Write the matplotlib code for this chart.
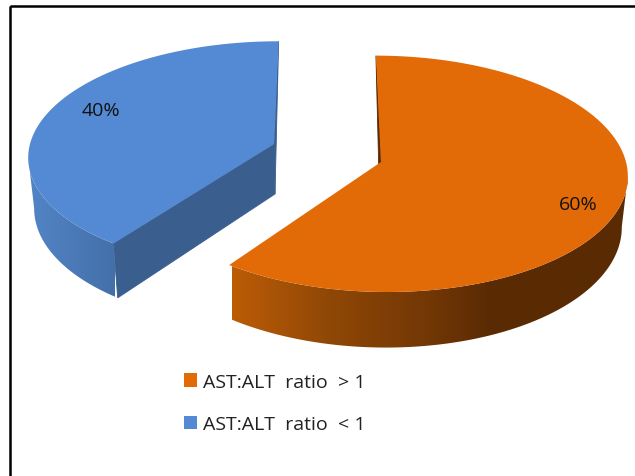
import numpy as np
import matplotlib.pyplot as plt
from matplotlib.colors import LinearSegmentedColormap
from matplotlib.patches import Patch, Polygon, Rectangle

# slices, clockwise from twelve o'clock
labels = ['AST:ALT  ratio  > 1', 'AST:ALT  ratio  < 1']
shares = [60, 40]
top_colors = ['#E26B08', '#548AD3']
cut_colors = ['#5A2B03', '#3A5E8E']
wall_stops = [
    [(232, '#BC5C07'), (330, '#8F4706'), (430, '#723705'), (490, '#5A2B03'), (640, '#5A2B03')],
    [(30, '#5284C6'), (115, '#4470A8')],
]
# where each slice's tip lands on the canvas, in pixels
tips = [(381, 163), (274, 145)]
radius_x = [245, 244]
radius_y = [117, 113]
label_xy = [(578, 205), (101, 111)]

WIDTH, HEIGHT = 635, 477
VANISH_X = 325
PERSPECTIVE = 0.10
DEPTH = 50
BOTTOM_SHRINK = 0.98

plt.rcParams['font.family'] = ['Open Sans', 'DejaVu Sans']


def project(tip, rx, ry, theta, r=1.0):
    # disc coordinates to canvas pixels, far edge of the disc drawn smaller
    u = r * np.sin(theta)
    v = r * np.cos(theta)
    s = 1 / (1 + PERSPECTIVE * v)
    x = VANISH_X + (tip[0] - VANISH_X + rx * u) * s
    y = tip[1] - ry * v * s
    return x, y, s


def drop(x, y, s):
    # same point on the underside of the pie
    return VANISH_X + (x - VANISH_X) * BOTTOM_SHRINK, y + DEPTH * s


def draw_slice(ax, tip, rx, ry, start, end, top, cut, stops):
    theta = np.linspace(start, end, 300)
    x, y, s = project(tip, rx, ry, theta)
    x0, y0, s0 = project(tip, rx, ry, np.array([0.0]), 0.0)
    bx, by = drop(x, y, s)
    bx0, by0 = drop(x0, y0, s0)

    # flat cut faces: the far one is a sliver, a front one at the end of the arc faces away
    for i in (0, -1):
        face = [(x[i], y[i]), (x0[0], y0[0]), (bx0[0], by0[0])]
        if np.cos(theta[i]) < 0:
            if i == -1:
                continue
            face.append((bx[i], by[i]))
        ax.add_patch(Polygon(face, closed=True, facecolor=cut, edgecolor=cut, linewidth=0.6, zorder=1))

    # outer wall, from the widest point of the rim round to the front
    widest = np.argmax(np.abs(x - VANISH_X))
    front = np.cos(theta) <= np.cos(theta[widest])
    wall = np.column_stack([np.r_[x[front], bx[front][::-1]], np.r_[y[front], by[front][::-1]]])
    lo, hi = stops[0][0], stops[-1][0]
    cmap = LinearSegmentedColormap.from_list('wall', [((p - lo) / (hi - lo), c) for p, c in stops])
    poly = Polygon(wall, closed=True, facecolor='none', edgecolor='none', transform=ax.transData)
    ax.add_patch(poly)
    img = ax.imshow(np.linspace(0, 1, 256).reshape(1, -1), cmap=cmap, aspect='auto',
                    extent=(lo, hi, HEIGHT, 0), zorder=2)
    img.set_clip_path(poly)

    outline = np.column_stack([np.r_[x0, x], np.r_[y0, y]])
    ax.add_patch(Polygon(outline, closed=True, facecolor=top, edgecolor='none', zorder=3))


fig = plt.figure(figsize=(WIDTH / 100, HEIGHT / 100), dpi=100)
ax = fig.add_axes([0, 0, 1, 1])

angles = np.r_[0, np.cumsum(shares)] / sum(shares) * 2 * np.pi
for i in range(len(shares)):
    draw_slice(ax, tips[i], radius_x[i], radius_y[i], angles[i], angles[i + 1],
               top_colors[i], cut_colors[i], wall_stops[i])
    ax.text(label_xy[i][0], label_xy[i][1], f'{shares[i]}%', ha='center', va='center',
            fontsize=14, color='#111111', zorder=4)

ax.set_xlim(0, WIDTH)
ax.set_ylim(HEIGHT, 0)
ax.axis('off')

# outer frame runs off the right and bottom of the canvas
ax.add_patch(Rectangle((10, 7), 640, 490, facecolor='none', edgecolor='black', linewidth=1.8, zorder=5))

handles = [Patch(facecolor=c, edgecolor='none') for c in top_colors]
ax.legend(handles, labels, loc='upper left', bbox_to_anchor=(178, 368), bbox_transform=ax.transData,
          frameon=False, fontsize=14, labelcolor='#222222', handlelength=0.7, handleheight=0.7,
          handletextpad=0.3, labelspacing=1.25, borderpad=0.3, borderaxespad=0)

fig.savefig('out.png', dpi=100)
